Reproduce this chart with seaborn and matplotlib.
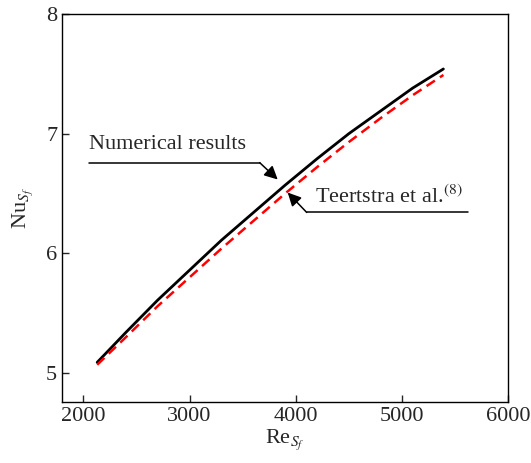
import pandas as pd
import matplotlib
matplotlib.use("Agg")
import matplotlib.pyplot as plt
import seaborn as sns

# Data
re_values = [2130, 2400, 2700, 3000, 3300, 3600, 3900, 4200, 4500, 4800, 5100, 5390]
nu_numerical = [5.09, 5.34, 5.61, 5.86, 6.11, 6.34, 6.57, 6.79, 7.00, 7.19, 7.38, 7.54]
nu_teertstra = [5.07, 5.30, 5.56, 5.80, 6.04, 6.27, 6.50, 6.72, 6.93, 7.13, 7.32, 7.49]

x_ticks = [2000, 3000, 4000, 5000, 6000]
y_ticks = [5, 6, 7, 8]

df_num = pd.DataFrame({"Re": re_values, "Nu": nu_numerical})
df_teer = pd.DataFrame({"Re": re_values, "Nu": nu_teertstra})

sns.set_style("ticks")
plt.rcParams['font.family'] = ['Liberation Serif', 'DejaVu Serif']
plt.rcParams['mathtext.fontset'] = 'stix'
plt.rcParams['font.size'] = 16

fig = plt.figure(figsize=(5.31, 4.63), dpi=100)
ax = fig.add_axes([0.117, 0.132, 0.840, 0.838])

sns.lineplot(data=df_num, x="Re", y="Nu", ax=ax, color="black", lw=2.0)
sns.lineplot(data=df_teer, x="Re", y="Nu", ax=ax, color="#ff0000", lw=1.8)
ax.lines[-1].set_dashes((4, 2.4))

ax.set_xlim(1800, 6000)
ax.set_ylim(4.76, 8)
ax.set_xticks(x_ticks)
ax.set_yticks(y_ticks)
ax.tick_params(direction="in", length=5, width=1, labelsize=16,
               top=False, right=False)
for s in ax.spines.values():
    s.set_linewidth(1.0)
    s.set_color("black")

ax.set_xlabel(r"Re$_{S_f}$", fontsize=16, labelpad=1)
ax.set_ylabel(r"Nu$_{S_f}$", fontsize=16, labelpad=8)

# annotations: leader line + arrow
arrow = dict(arrowstyle="-|>", color="black", lw=1.1, mutation_scale=20,
             shrinkA=0, shrinkB=0)

ax.plot([2057, 3660], [6.758, 6.758], color="black", lw=1.1)
ax.annotate("", xy=(3830, 6.617), xytext=(3660, 6.758), arrowprops=arrow)
ax.text(2057, 6.91, "Numerical results", fontsize=16, va="center", ha="left")

ax.plot([4103, 5621], [6.342, 6.342], color="black", lw=1.1)
ax.annotate("", xy=(3924, 6.508), xytext=(4103, 6.342), arrowprops=arrow)
ax.text(4178, 6.475, r"Teertstra et al.$^{\rm (8)}$", fontsize=16,
        va="center", ha="left")

fig.savefig("out.png", dpi=100)
